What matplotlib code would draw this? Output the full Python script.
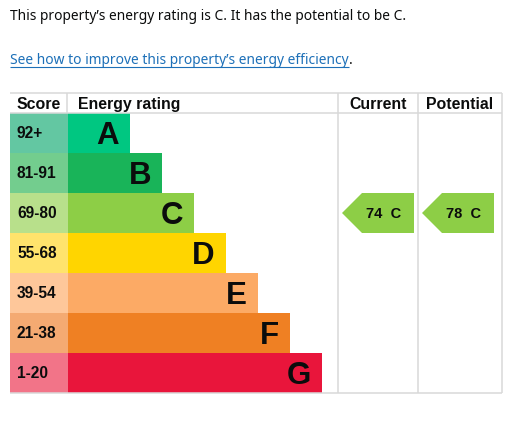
import matplotlib.pyplot as plt
from matplotlib.patches import Rectangle, Polygon

# EPC data
bands = ["A", "B", "C", "D", "E", "F", "G"]
score_ranges = ["92+", "81-91", "69-80", "55-68", "39-54", "21-38", "1-20"]
band_mins = [92, 81, 69, 55, 39, 21, 1]
bar_colors = ["#00c781", "#19b459", "#8dce46", "#ffd500", "#fcaa65", "#ef8023", "#e9153b"]
score_colors = ["#63c7a2", "#73cd8e", "#b8e08b", "#ffe36c", "#fec79a", "#f4aa72", "#f27488"]
current_score = 74
potential_score = 78


def band_of(score):
    for i, m in enumerate(band_mins):
        if score >= m:
            return i
    return len(bands) - 1


cur_i = band_of(current_score)
pot_i = band_of(potential_score)

fig = plt.figure(figsize=(5.09, 4.24), dpi=100)
ax = fig.add_axes([0, 0, 1, 1])
ax.set_xlim(0, 509)
ax.set_ylim(424, 0)
ax.axis("off")

# layout (pixels)
left = 10
score_w = 58
bar_x0 = left + score_w
bar_w0 = 62
bar_step = 32
head_top = 93
row_top = 113
row_h = 40
col_cur = 338
col_pot = 418
right = 502
bottom = row_top + row_h * len(bands)
grid = "#d9d9d9"
bold = dict(family="Liberation Sans", weight="bold", color="#0b0c0c")

# intro text
ax.text(left, 20.5, f"This property\u2019s energy rating is {bands[cur_i]}. "
        f"It has the potential to be {bands[pot_i]}.",
        family="Noto Sans", fontsize=9.95, color="#0b0c0c", va="baseline")
link = ax.text(left, 64, "See how to improve this property\u2019s energy efficiency",
               family="Noto Sans", fontsize=9.95, color="#1d70b8", va="baseline")
fig.canvas.draw()
bb = link.get_window_extent().transformed(ax.transData.inverted())
ax.plot([left, bb.x1], [66.8, 66.8], color="#1d70b8", lw=0.8, solid_capstyle="butt")
ax.text(bb.x1 + 0.5, 64, ".", family="Noto Sans", fontsize=9.95, color="#0b0c0c", va="baseline")

# header
ax.text(17, 109, "Score", fontsize=11.4, va="baseline", **bold)
ax.text(78, 109, "Energy rating", fontsize=11.4, va="baseline", **bold)
ax.text((col_cur + col_pot) / 2, 109, "Current", fontsize=11.4, va="baseline", ha="center", **bold)
ax.text((col_pot + right) / 2, 109, "Potential", fontsize=11.4, va="baseline", ha="center", **bold)

# rows
for i, (b, rng) in enumerate(zip(bands, score_ranges)):
    y0 = row_top + i * row_h
    yc = y0 + row_h / 2
    ax.add_patch(Rectangle((left, y0), score_w, row_h, color=score_colors[i], lw=0))
    w = bar_w0 + bar_step * i
    ax.add_patch(Rectangle((bar_x0, y0), w, row_h, color=bar_colors[i], lw=0))
    ax.text(17, yc + 5.5, rng, fontsize=11.2, va="baseline", **bold)
    ax.text(bar_x0 + w - 11, yc + 11, b, fontsize=22.5, va="baseline", ha="right", **bold)


def arrow(x0, x1, i, score):
    y0 = row_top + i * row_h
    yc = y0 + row_h / 2
    pts = [(x0, yc), (x0 + row_h / 2, y0), (x1, y0), (x1, y0 + row_h), (x0 + row_h / 2, y0 + row_h)]
    ax.add_patch(Polygon(pts, closed=True, color=bar_colors[i], lw=0))
    ax.text((x0 + x1) / 2 + 6, yc + 4.5, f"{score}  {bands[i]}", fontsize=10.5,
            va="baseline", ha="center", **bold)


arrow(col_cur + 4, col_pot - 4, cur_i, current_score)
arrow(col_pot + 4, right - 8, pot_i, potential_score)

# grid lines
lw = 1.1
for y in [head_top, row_top, bottom]:
    ax.plot([left, right], [y, y], color=grid, lw=lw, solid_capstyle="butt")
for x in [col_cur, col_pot, right]:
    ax.plot([x, x], [head_top, bottom], color=grid, lw=lw, solid_capstyle="butt")
ax.plot([bar_x0 - 1, bar_x0 - 1], [head_top, row_top], color=grid, lw=lw, solid_capstyle="butt")

fig.savefig("out.png", dpi=100)
